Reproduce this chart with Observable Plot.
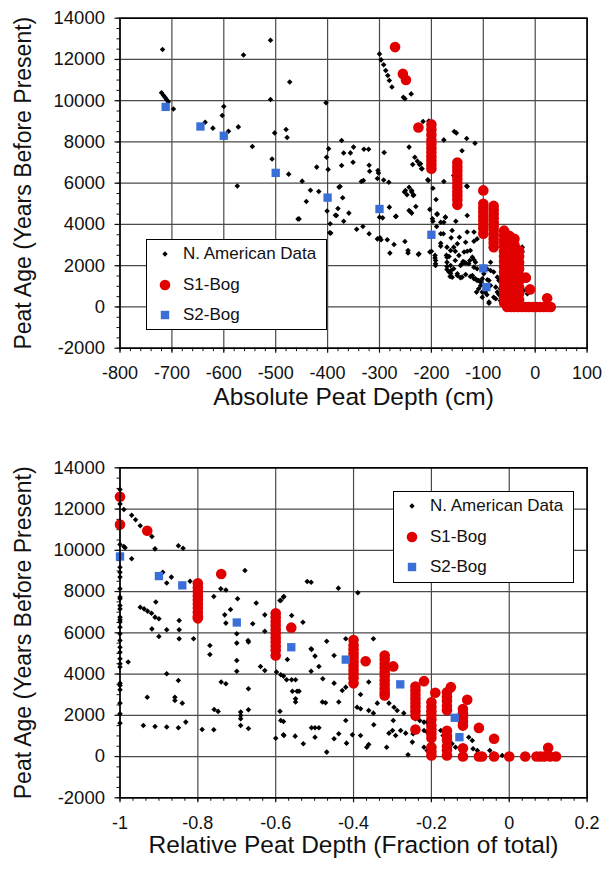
<!DOCTYPE html>
<html><head><meta charset="utf-8">
<script src="https://cdn.jsdelivr.net/npm/d3@7"></script>
<script src="https://cdn.jsdelivr.net/npm/@observablehq/plot@0.6"></script>
<style>
body{margin:0;background:#fff;font-family:"Liberation Sans",Arial,Helvetica,sans-serif;}
#wrap{position:relative;width:602px;height:871px;overflow:hidden;}
#wrap svg{display:block}
.legend{position:absolute;border:1.5px solid #000;background:#fff;box-sizing:border-box;font-size:17px;color:#111;}
.legend .row{position:absolute;left:0;height:0;}
.legend .row svg{position:absolute;left:8px;top:-7px;width:20px;height:14px;overflow:visible}
.legend .row span{position:absolute;left:36px;top:-10px;white-space:nowrap;line-height:20px}
</style></head>
<body><div id="wrap"></div>
<script>
// ---------- DATA ----------
const seriesNames = ["N. American Data", "S1-Bog", "S2-Bog"];
const yTitle = "Peat Age (Years Before Present)";
const xTitleAbs = "Absolute Peat Depth (cm)";
const xTitleRel = "Relative Peat Depth (Fraction of total)";
const yMajor = [-2000, 0, 2000, 4000, 6000, 8000, 10000, 12000, 14000];
const xMajorAbs = [-800, -700, -600, -500, -400, -300, -200, -100, 0, 100];
const xMajorRel = [-1, -0.8, -0.6, -0.4, -0.2, 0, 0.2];

// N. American data, absolute depth (cm), age (yr BP)
const naAbs = [[-718,12480],[-720,10380],[-716,10250],[-713,10150],[-710,10050],[-707,9950],[-697,9600],[-636,8960],[-621,8670],[-600,9720],[-603,9280],[-591,8520],[-572,8730],[-574,5860],[-562,12220],[-545,7780],[-510,12930],[-510,10060],[-502,8440],[-507,7170],[-480,8600],[-478,8220],[-475,6440],[-473,10910],[-457,4260],
[-403,9900],[-373,8070],[-398,7670],[-402,7260],[-369,7460],[-356,7470],[-350,7750],[-330,7650],[-321,7650],[-291,7490],[-421,6780],[-399,6660],[-373,6860],[-351,7020],[-320,6870],[-319,6580],[-449,6100],[-376,5840],[-335,6080],[-331,6130],[-303,6620],[-302,6490],[-304,6230],[-292,6160],[-282,6050],[-433,5660],[-417,5600],
[-300,12270],[-297,11980],[-292,11740],[-288,11460],[-284,11220],[-281,10980],[-276,10660],[-254,10170],[-251,10090],[-239,10330],[-216,8990],[-205,9020],[-243,7750],[-176,8100],[-156,8510],[-152,8440],[-132,8170],[-116,7940],[-141,7570],[-232,7260],[-227,7070],[-223,6910],[-219,6700],[-236,6910],[-206,6130],[-176,6080],[-157,6370],[-132,5860],[-250,5650],[-247,5440],[-238,5570],[-235,5400],[-252,5570],[-197,5760],
[-401,4650],[-380,4770],[-359,4550],[-441,5110],[-371,5290],[-281,4840],[-269,4390],[-300,4350],[-294,4320],[-455,4270],[-243,4680],[-241,4630],[-230,4870],[-243,5800],[-238,5650],[-234,5430],
[-383,4430],[-369,4160],[-394,3580],[-344,3770],[-332,3900],[-320,3550],[-304,3300],[-299,3350],[-297,3255],[-285,3255],[-272,3030],[-280,2610],[-268,4400],[-251,3170],[-245,2740],[-245,2620],[-238,4550],[-224,2580],[-203,2660],[-203,4730],[-193,2370],[-192,2090],[-189,4520],[-197,4160],[-182,4110],[-190,3900],[-182,3550],[-177,3550],[-182,3090],[-173,4350],[-170,2900],[-170,2170],[-170,1820],[-166,1690],[-164,1480],[-162,3350],
[-176,4110],[-153,4160],[-131,4435],[-160,3710],[-131,3630],[-118,3630],[-146,3380],[-150,3060],[-134,3140],[-118,3190],[-112,3300],[-163,2740],[-147,2500],[-137,2660],[-125,2740],[-121,2415],[-118,2290],[-115,2170],[-154,2250],[-144,2010],[-141,2090],[-137,2170],[-128,2090],[-112,1850],[-150,1610],[-163,1640],[-160,1445],[-141,1445],[-134,1575],[-125,1480],[-118,1365],[-112,1285],[-99,1610],[-86,2170],[-80,1690],[-73,1445],[-70,1285],[-64,1120],[-67,880],[-89,1285],[-86,1040],[-96,720],[-93,590],[-102,475],[-89,235],[-76,395],[-105,1040],[-109,880],[-113,720],[-102,1365],[-105,1200],[-73,720],[-70,605],[-54,475],[-48,315],[-25,2900],[-25,2660],[-22,800],[-15,640],[-64,395],[-60,235],[-118,1930],[-86,1770],[-93,1850],[-163,2010],[-157,1850],[-170,2415],
[-378,5810],[-395,4030],[-396,3600],[-385,4450],[-225,2545],[-200,2705],[-192,2250],[-192,2010],[-193,2500],[-182,2950],[-171,2510],[-166,2450],[-157,2900],[-154,2705],[-170,1960],[-162,1770],[-150,1525],[-144,1415],[-131,2705],[-126,2255],[-139,2205],[-134,2125],[-121,1525],[-115,1365],[-109,1285],[-102,720],[-89,185],[-80,475],[-67,315],[-76,960],[-92,1315],[-98,1770],
[-218,6700],[-207,6165],[-191,5210],[-131,5840],[-189,4485],[-173,4355],[-198,4275],[-221,6940]];

// S1-Bog, absolute depth
const s1Abs = [[-270,12600],[-255,11300],[-249,11000],[-225,8700],
[-200,8850],[-200,8600],[-200,8350],[-200,8100],[-200,7900],[-200,7700],[-200,7500],[-200,7300],[-200,7100],[-200,6900],[-200,6700],
[-150,7000],[-150,6800],[-150,6600],[-150,6400],[-150,6200],[-150,6000],[-150,5800],[-150,5600],[-150,5400],[-150,5200],[-150,4950],
[-100,5650],[-100,5000],[-100,4800],[-100,4600],[-100,4400],[-100,4200],[-100,4000],[-100,3800],[-100,3550],
[-80,4900],[-80,4700],[-80,4500],[-80,4300],[-80,4100],[-80,3900],[-80,3700],[-80,3500],[-80,3300],[-80,3100],[-80,2900],
[-60,3700],[-60,3450],[-60,3200],[-60,2950],[-60,2700],[-60,2450],[-60,2200],[-60,1950],[-60,1700],[-60,1450],[-60,1200],[-60,950],[-60,700],[-60,450],[-60,200],
[-50,3450],[-50,3150],[-50,2850],[-50,2550],[-50,2250],[-50,1950],[-50,1650],[-50,1350],[-50,1050],[-50,750],[-50,450],[-50,150],
[-40,3300],[-40,3000],[-40,2700],[-40,2400],[-40,2100],[-40,1800],[-40,1500],[-40,1200],[-40,900],[-40,600],[-40,300],
[-31,2740],[-31,2450],[-31,2150],[-31,1850],[-31,1550],[-31,1250],[-31,950],[-31,650],[-31,350],
[-18,1420],[-10,850],[23,420],
[-54,0],[-47,0],[-40,0],[-33,0],[-26,0],[-19,0],[-12,0],[-5,0],[2,0],[9,0],[16,0],[23,0],[30,0]];

// S2-Bog, absolute depth
const s2Abs = [[-712,9700],[-645,8750],[-600,8300],[-500,6500],[-400,5300],[-300,4750],[-200,3500],[-100,1870],[-94,960]];

// N. American data, relative depth (fraction of total)
const naRel = [[-1,12950],[-1,12250],[-1,10280],[-1,9180],[-1,8940],[-1,8700],[-1,8140],[-1,7730],[-1,7650],[-1,7320],[-1,7160],[-1,6760],[-1,6630],[-1,6520],[-1,6270],[-1,5950],[-1,5630],[-1,5300],[-1,5060],[-1,4740],[-1,4500],[-1,4340],[-1,3560],[-1,3450],[-1,3240],[-1,2590],[-1,2070],[-1,1620],
[-0.99,11980],[-0.97,11700],[-0.96,11480],[-0.948,11190],[-0.918,10670],[-0.99,10185],[-0.987,10120],[-0.97,9590],[-0.91,10070],[-0.85,10220],[-0.838,10100],[-0.89,8940],[-0.88,8410],[-0.868,8700],[-0.908,7490],[-0.948,7240],[-0.938,7160],[-0.929,7050],[-0.919,6950],[-0.91,6760],[-0.9,6680],[-0.918,6190],[-0.88,6145],[-0.9,5820],[-0.848,6600],[-0.848,6145],[-0.848,5710],[-0.811,5710],[-0.82,8500],[-0.759,7760],[-0.741,8130],[-0.728,8080],[-0.731,6870],[-0.716,7130],[-0.679,9020],[-0.698,7650],[-0.65,7440],[-0.728,6470],[-0.7,5950],[-0.769,5385],[-0.671,5630],[-0.7,5500],[-0.659,6435],[-0.628,6870],[-0.628,6080],[-0.589,7570],[-0.579,7760],[-0.559,6840],
[-0.979,4580],[-0.769,4950],[-0.7,4660],[-0.7,4140],[-0.67,5550],[-0.639,4370],[-0.628,4175],[-0.598,4095],[-0.58,3900],[-0.57,4710],[-0.88,4010],[-0.85,3690],[-0.93,2880],[-0.859,2880],[-0.859,2720],[-0.84,2590],[-0.831,1670],[-0.94,1510],[-0.91,1460],[-0.88,1430],[-0.85,1395],[-0.789,1315],[-0.759,1300],[-0.74,3610],[-0.728,3530],[-0.758,2280],[-0.748,2190],[-0.69,2155],[-0.69,1990],[-0.69,1830],[-0.69,1510],[-0.67,3285],[-0.67,2270],[-0.67,1360],[-0.6,890],[-0.589,2200],[-0.58,1700],[-0.58,1055],[-0.55,990],[-0.559,3720],[-0.549,3720],[-0.557,3170],[-0.545,3170],[-0.549,2800],[-0.549,2640],
[-0.508,5190],[-0.499,4870],[-0.45,4900],[-0.489,4370],[-0.509,4140],[-0.587,3965],[-0.572,3720],[-0.54,3170],[-0.479,3770],[-0.45,3560],[-0.429,3205],[-0.42,3365],[-0.382,3010],[-0.361,3610],[-0.391,2395],[-0.382,2315],[-0.361,2235],[-0.339,2590],[-0.349,2105],[-0.48,2640],[-0.472,2605],[-0.438,2640],[-0.587,1750],[-0.579,1025],[-0.529,620],[-0.508,1395],[-0.499,1395],[-0.489,1395],[-0.499,940],[-0.469,215],[-0.45,860],[-0.438,1105],[-0.42,1750],[-0.418,650],[-0.403,1055],[-0.382,1025],[-0.366,455],[-0.361,585],[-0.348,1540],[-0.315,455],[-0.309,2590],[-0.296,2395],[-0.288,2235],[-0.309,1135],[-0.3,1265],[-0.292,1025],[-0.298,1750],[-0.271,2105],[-0.26,85],[-0.249,700],[-0.247,1105],[-0.23,1750],[-0.219,1670],[-0.211,1670],[-0.219,1265],[-0.211,1185],[-0.219,455],[-0.211,295],[-0.176,1265],[-0.17,1025],[-0.161,780],[-0.147,620],[-0.138,455],[-0.104,940],[-0.095,780],[-0.093,375],[-0.082,295],[-0.05,295],[-0.04,135],[-0.018,55],[-0.005,55],[-0.279,1265],[-0.266,1135],[-0.241,1830],
[-0.519,8490],[-0.509,8455],[-0.439,8165],[-0.389,7940],[-0.58,7730],[-0.587,7570],[-0.53,6515],[-0.469,5595],[-0.42,5710],[-0.349,5710],[-0.509,5225]];

// S1-Bog, relative depth
const s1Rel = [[-1,12600],[-1,11250],[-0.93,10950],[-0.74,8850],
[-0.8,8400],[-0.8,8200],[-0.8,8000],[-0.8,7800],[-0.8,7600],[-0.8,7400],[-0.8,7200],[-0.8,7000],[-0.8,6800],[-0.8,6700],
[-0.6,6950],[-0.6,6750],[-0.6,6550],[-0.6,6350],[-0.6,6150],[-0.6,5950],[-0.6,5750],[-0.6,5550],[-0.6,5350],[-0.6,5150],[-0.6,4900],
[-0.56,6250],
[-0.4,5650],[-0.4,5400],[-0.4,5200],[-0.4,5000],[-0.4,4800],[-0.4,4600],[-0.4,4400],[-0.4,4200],[-0.4,4000],[-0.4,3800],[-0.4,3550],
[-0.369,4620],
[-0.32,4900],[-0.32,4700],[-0.32,4500],[-0.32,4300],[-0.32,4100],[-0.32,3900],[-0.32,3700],[-0.32,3500],[-0.32,3300],[-0.32,3100],[-0.32,2960],
[-0.298,4370],
[-0.241,3400],[-0.241,3200],[-0.241,3000],[-0.241,2800],[-0.241,2600],[-0.241,2400],[-0.241,2200],[-0.241,1990],
[-0.219,3655],[-0.241,1313],
[-0.2,2635],[-0.2,2400],[-0.2,2200],[-0.2,2000],[-0.2,1800],[-0.2,1500],[-0.2,1300],[-0.2,1100],[-0.2,900],[-0.2,450],[-0.2,250],[-0.2,50],
[-0.19,3093],
[-0.16,3120],[-0.16,2900],[-0.16,2700],[-0.16,2450],[-0.16,2250],[-0.16,1250],[-0.16,1000],[-0.16,800],[-0.16,500],[-0.16,300],[-0.16,50],
[-0.15,3364],
[-0.119,2300],[-0.119,2100],[-0.119,1900],[-0.119,1700],[-0.119,1500],[-0.119,400],
[-0.108,2752],[-0.078,1390],[-0.039,860],
[-0.119,0],[-0.078,0],[-0.07,0],[-0.039,0],[0,0],[0.041,0],[0.07,0],[0.08,0],[0.09,0],[0.105,0],[0.12,0],[0.1,425]];

// S2-Bog, relative depth
const s2Rel = [[-1,9700],[-0.9,8750],[-0.84,8300],[-0.70,6500],[-0.56,5300],[-0.42,4700],[-0.28,3500],[-0.14,1880],[-0.128,940]];

// ---------- STYLE ----------
const FONT = '"Liberation Sans", Arial, Helvetica, sans-serif';
const RED = "#e00000", BLUE = "#3b6fd8", GRID = "#4a4a4a";

function panel({na, s1, s2, xDomain, xMajor, xMinor, xFmt, xTitle, height, mt, mb, titleDy}) {
  const yMinor = d3.range(-2000, 14001, 500);
  return Plot.plot({
    width: 602, height,
    marginLeft: 119.5, marginRight: 15.4, marginTop: mt, marginBottom: mb,
    style: {fontFamily: FONT, background: "white", color: "#111", overflow: "visible"},
    x: {domain: xDomain},
    y: {domain: [-2000, 14000]},
    marks: [
      Plot.gridX(xMajor, {stroke: GRID, strokeOpacity: 1, strokeWidth: 1.2}),
      Plot.gridY(yMajor, {stroke: GRID, strokeOpacity: 1, strokeWidth: 1.2}),
      Plot.axisX(xMinor, {tickSize: 3.5, fill: "none", label: null, strokeWidth: 1}),
      Plot.axisX(xMajor, {tickSize: 5, tickPadding: 13, fontSize: 18, tickFormat: xFmt, label: null, strokeWidth: 1.2}),
      Plot.axisY(yMinor, {tickSize: 3, fill: "none", label: null, strokeWidth: 1}),
      Plot.axisY(yMajor, {tickSize: 5, tickPadding: 10, fontSize: 18.5, tickFormat: d => String(d), label: null, strokeWidth: 1.2}),
      Plot.dot(na, {x: d => d[0], y: d => d[1], symbol: "diamond2", r: 2.5, fill: "black", stroke: null}),
      Plot.dot(s1, {x: d => d[0], y: d => d[1], symbol: "circle", r: 5.3, fill: RED, stroke: null}),
      Plot.dot(s2, {x: d => d[0], y: d => d[1], symbol: "square", r: 4.7, fill: BLUE, stroke: null}),
      Plot.frame({stroke: "black", strokeWidth: 1.6}),
      Plot.text([xTitle], {text: d => d, frameAnchor: "bottom", dy: titleDy, fontSize: 24.5, fill: "#111"}),
      Plot.text([yTitle], {text: d => d, frameAnchor: "left", textAnchor: "middle", rotate: -90, dx: -96.5, fontSize: 23, fill: "#111"})
    ]
  });
}

const wrap = document.getElementById("wrap");
wrap.appendChild(panel({
  na: naAbs, s1: s1Abs, s2: s2Abs,
  xDomain: [-800, 100], xMajor: xMajorAbs, xMinor: d3.range(-800, 101, 20),
  xFmt: d => String(d), xTitle: xTitleAbs,
  height: 437, mt: 17.7, mb: 89.3, titleDy: 57
}));
wrap.appendChild(panel({
  na: naRel, s1: s1Rel, s2: s2Rel,
  xDomain: [-1, 0.2], xMajor: xMajorRel, xMinor: d3.range(0, 37).map(i => -1 + i / 30),
  xFmt: d => String(+d.toFixed(1)), xTitle: xTitleRel,
  height: 434, mt: 30.3, mb: 73.7, titleDy: 55.5
}));

function legend(left, top, w, h) {
  const box = document.createElement("div");
  box.className = "legend";
  Object.assign(box.style, {left: left + "px", top: top + "px", width: w + "px", height: h + "px"});
  const rowsY = [13.5, 44.5, 75];
  const markers = [
    '<path d="M10,4.3L12.7,7L10,9.7L7.3,7Z" fill="black"/>',
    `<circle cx="10" cy="7" r="5.3" fill="${RED}"/>`,
    `<rect x="5.8" y="2.8" width="8.4" height="8.4" fill="${BLUE}"/>`
  ];
  seriesNames.forEach((name, i) => {
    const row = document.createElement("div");
    row.className = "row";
    row.style.top = rowsY[i] + "px";
    row.innerHTML = `<svg viewBox="0 0 20 14">${markers[i]}</svg><span>${name}</span>`;
    box.appendChild(row);
  });
  wrap.appendChild(box);
}
legend(146, 239, 181, 90.5);
legend(393, 491, 180.5, 91.5);
</script>
</body></html>
